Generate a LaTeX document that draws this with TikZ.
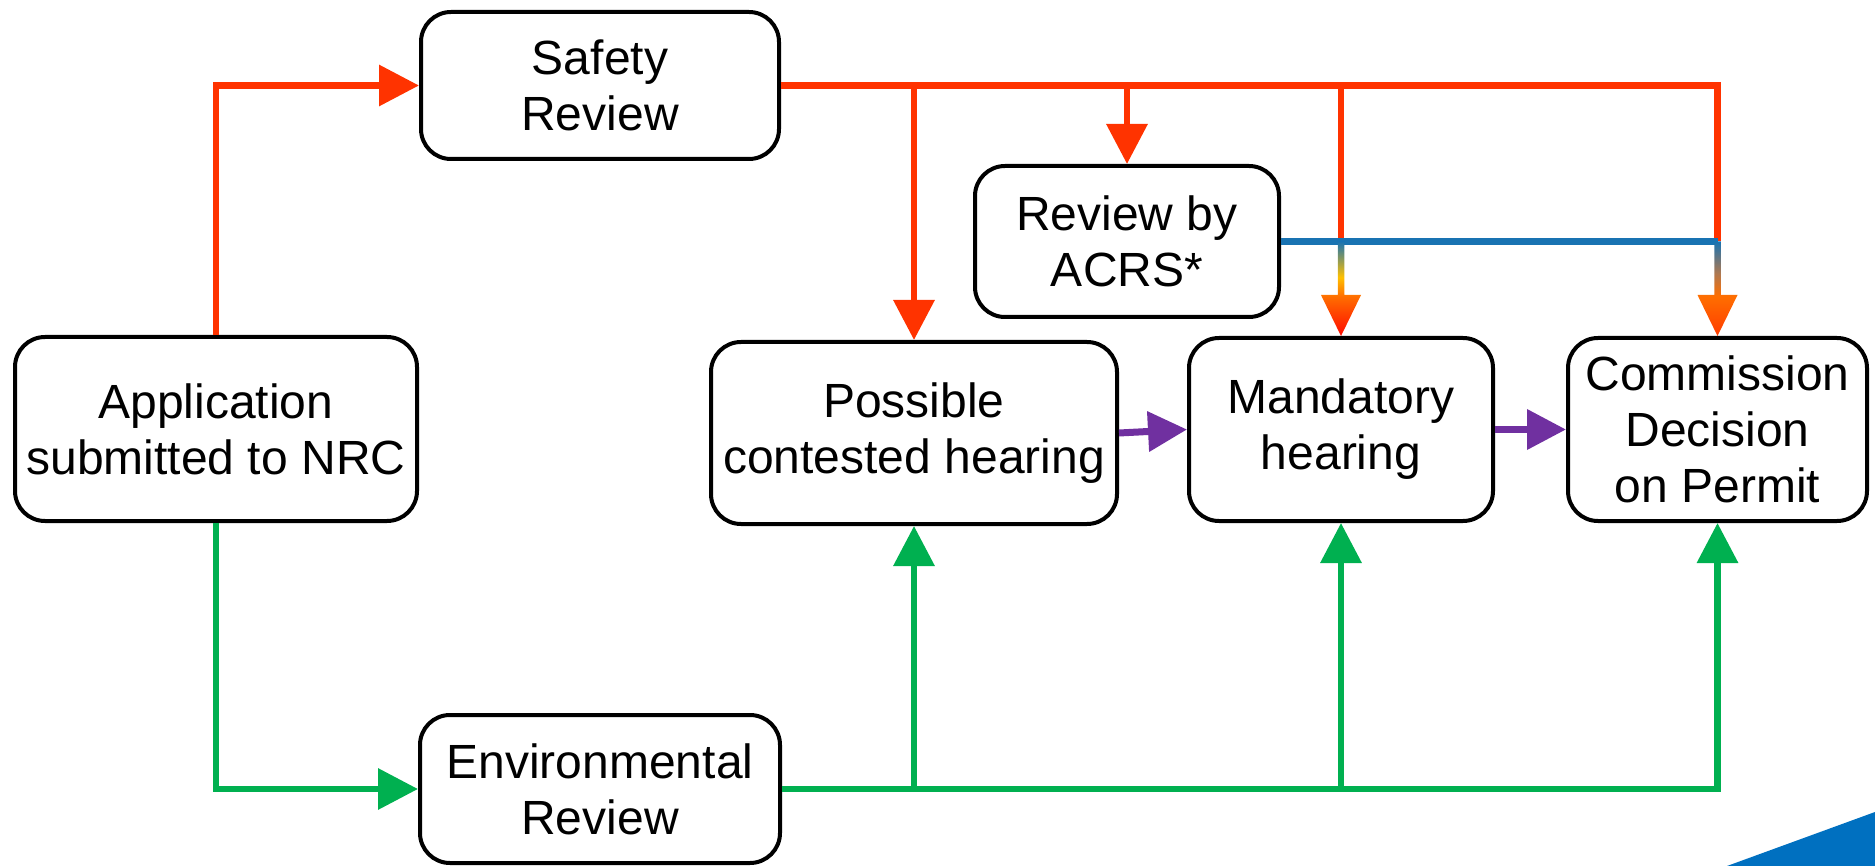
\documentclass[tikz,border=0pt]{standalone}
\usepackage{fontspec}
\setmainfont{Liberation Sans}
\usetikzlibrary{arrows.meta,calc}

\definecolor{flowred}{RGB}{255,51,0}
\definecolor{flowgreen}{RGB}{0,176,80}
\definecolor{flowblue}{RGB}{25,115,178}
\definecolor{flowpurple}{RGB}{112,48,160}
\definecolor{cornerblue}{RGB}{0,112,192}
\definecolor{gRed}{RGB}{255,10,0}
\definecolor{gOrange}{RGB}{255,110,0}
\definecolor{gYellow}{RGB}{255,192,0}
\definecolor{gRedOrange}{RGB}{255,60,0}
\definecolor{gBrown}{RGB}{175,120,80}

% vertical blends for the ACRS feed-in arrows (inner 25bp..75bp spans the path)
\pgfdeclareverticalshading{mandblend}{100bp}{color(0bp)=(gRed); color(25bp)=(gRed); color(46bp)=(gOrange); color(56bp)=(gYellow); color(75bp)=(flowblue); color(100bp)=(flowblue)}
\pgfdeclareverticalshading{commblend}{100bp}{color(0bp)=(gRedOrange); color(25bp)=(gRedOrange); color(46bp)=(gOrange); color(58bp)=(gBrown); color(75bp)=(flowblue); color(100bp)=(flowblue)}

\begin{document}
\begin{tikzpicture}[x=1pt,y=-1pt,
  box/.style={draw=black, line width=4pt, rounded corners=30pt, fill=white,
    align=center, inner sep=0pt, font=\fontsize{48}{56}\selectfont},
  tip/.style={-{Triangle[length=40pt,width=40pt]}},
  redline/.style={draw=flowred, line width=6.5pt},
  greenline/.style={draw=flowgreen, line width=6.5pt},
  blueline/.style={draw=flowblue, line width=6.5pt},
  purpline/.style={draw=flowpurple, line width=7pt, -{Triangle[length=39pt,width=39pt]}}
]
\useasboundingbox (0,0) rectangle (1875,866);

% process boxes
\node[box, minimum width=358pt, minimum height=147pt] (safety) at (600,85.5) {Safety\\Review};
\node[box, minimum width=304pt, minimum height=151pt] (acrs) at (1127,241.5) {Review by\\ACRS*};
\node[box, minimum width=402pt, minimum height=184pt] (app) at (216,429) {Application\\submitted to NRC};
\node[box, minimum width=406pt, minimum height=182pt] (contested) at (914,433) {Possible\\contested hearing};
\node[box, minimum width=304pt, minimum height=183pt] (mand) at (1341,429.5) {Mandatory\\hearing};
\node[box, minimum width=299pt, minimum height=183pt] (comm) at (1717.5,429.5) {Commission\\Decision\\on Permit};
\node[box, minimum width=360pt, minimum height=148pt] (env) at (600,789) {Environmental\\Review};

% junction points on the shared lines
\coordinate (rc) at (safety.east -| contested.north);
\coordinate (ra) at (safety.east -| acrs.north);
\coordinate (rm) at (safety.east -| mand.north);
\coordinate (rk) at (safety.east -| comm.north);
\coordinate (bm) at (acrs.east -| mand.north);
\coordinate (bk) at (acrs.east -| comm.north);
\coordinate (gc) at (env.east -| contested.south);
\coordinate (gm) at (env.east -| mand.south);

% safety review branch
\draw[redline, tip] (app.north) |- (safety.west);
\draw[redline] (safety.east) -- (rk) -- (bk);
\draw[redline, tip] (rc) -- (contested.north);
\draw[redline, tip] (ra) -- (acrs.north);
\draw[redline] (rm) -- (bm);

% ACRS report line
\draw[blueline] (acrs.east) -- (bk);

% blended arrows into the hearings and the decision
\shade[shading=mandblend]
  ($(bm)+(-3.25,0)$) -- ($(bm)+(3.25,0)$) -- ($(mand.north)+(3.25,-41)$) --
  ($(mand.north)+(20,-41)$) -- (mand.north) -- ($(mand.north)+(-20,-41)$) --
  ($(mand.north)+(-3.25,-41)$) -- cycle;
\shade[shading=commblend]
  ($(bk)+(-3.25,0)$) -- ($(bk)+(3.25,0)$) -- ($(comm.north)+(3.25,-41)$) --
  ($(comm.north)+(20,-41)$) -- (comm.north) -- ($(comm.north)+(-20,-41)$) --
  ($(comm.north)+(-3.25,-41)$) -- cycle;

% environmental review branch
\draw[greenline, tip] (app.south) |- (env.west);
\draw[greenline, tip] (env.east) -| (comm.south);
\draw[greenline, tip] (gc) -- (contested.south);
\draw[greenline, tip] (gm) -- (mand.south);

% hearing sequence
\draw[purpline] (contested.east) -- (mand.west);
\draw[purpline] (mand.east) -- (comm.west);

% corner accent
\fill[cornerblue] (1727,866) -- (1875,812) -- (1875,866) -- cycle;
\end{tikzpicture}
\end{document}
